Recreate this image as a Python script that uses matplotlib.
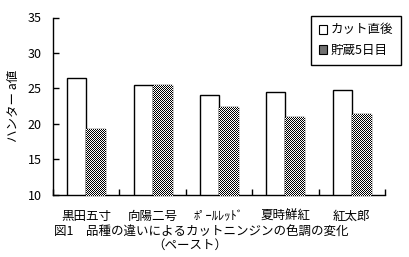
import numpy as np
import matplotlib
matplotlib.use("Agg")
import matplotlib.pyplot as plt
from matplotlib.patches import Patch, Rectangle

plt.rcParams['font.family'] = ['Noto Sans CJK JP', 'DejaVu Sans']

categories = ["黒田五寸", "向陽二号", "ﾎﾟｰﾙﾚｯﾄﾞ", "夏時鮮紅", "紅太郎"]
series_names = ["カット直後", "貯蔵5日目"]
after_cut = [26.5, 25.4, 24.1, 24.5, 24.7]
stored_5d = [19.3, 25.4, 22.3, 20.9, 21.4]
y_label = "ハンター a値"
caption_1 = "図1　品種の違いによるカットニンジンの色調の変化"
caption_2 = "（ペースト）"

W, H, DPI = 409, 257, 100
fig = plt.figure(figsize=(W / DPI, H / DPI), dpi=DPI)
ax = fig.add_axes([53 / W, 1 - 194.5 / H, (385 - 53) / W, (194.5 - 17.5) / H])

Y0, Y1 = 10, 35
ax.set_ylim(Y0, Y1)

x = np.arange(len(categories))
bw = 0.285
ax.bar(x - bw / 2, after_cut, bw, color="white", edgecolor="black",
       linewidth=1.0, zorder=2)
stored_bars = ax.bar(x + bw / 2, stored_5d, bw, color="#808080",
                     edgecolor="none", linewidth=0, zorder=2)

# one-pixel checker fill for the stored series, clipped to the visible part of each bar
yy, xx = np.mgrid[0:H, 0:W]
checker = ((xx + yy) % 2).astype(float)
checker_rgb = np.dstack([checker] * 3)
for rect in stored_bars.patches:
    clip = Rectangle((rect.get_x(), Y0), rect.get_width(), rect.get_height() - Y0,
                     transform=ax.transData)
    im = fig.figimage(checker_rgb, xo=0, yo=0, zorder=2.5)
    im.set_clip_path(clip)
ax.bar(x + bw / 2, stored_5d, bw, fill=False, edgecolor="black",
       linewidth=1.0, zorder=3)

ax.set_xlim(-0.5, len(categories) - 0.5)
ax.set_yticks(np.arange(Y0, Y1 + 1, 5))
ax.set_xticks(np.arange(len(categories) + 1) - 0.5, minor=False)
ax.set_xticklabels([])
ax.set_xticks(x, minor=True)
ax.set_xticklabels(categories, minor=True, fontsize=9)
ax.tick_params(axis="x", which="major", direction="in", length=4, width=1)
ax.tick_params(axis="x", which="minor", length=0, pad=11)
ax.tick_params(axis="y", direction="in", length=4, width=1, pad=8, labelsize=9)

for s in ("top", "right"):
    ax.spines[s].set_visible(False)
for s in ("left", "bottom"):
    ax.spines[s].set_linewidth(1.0)

ax.set_ylabel(y_label, fontsize=9, labelpad=6)

handles = [Patch(facecolor="white", edgecolor="black", linewidth=0.8),
           Patch(facecolor="#707070", edgecolor="black", linewidth=0.8)]
leg = ax.legend(handles, series_names, loc="upper right",
                bbox_to_anchor=(401 / W, 1 - 16 / H),
                bbox_transform=fig.transFigure,
                fontsize=9, handlelength=0.7, handleheight=0.7,
                handletextpad=0.3, borderpad=0.6, labelspacing=0.6,
                fancybox=False, framealpha=1, borderaxespad=0)
leg.get_frame().set_edgecolor("black")
leg.get_frame().set_linewidth(1.0)

fig.text(201 / W, 1 - 231.7 / H, caption_1, ha="center", va="center", fontsize=9)
fig.text(190 / W, 1 - 245 / H, caption_2, ha="center", va="center", fontsize=9)

fig.savefig("out.png", dpi=DPI)
